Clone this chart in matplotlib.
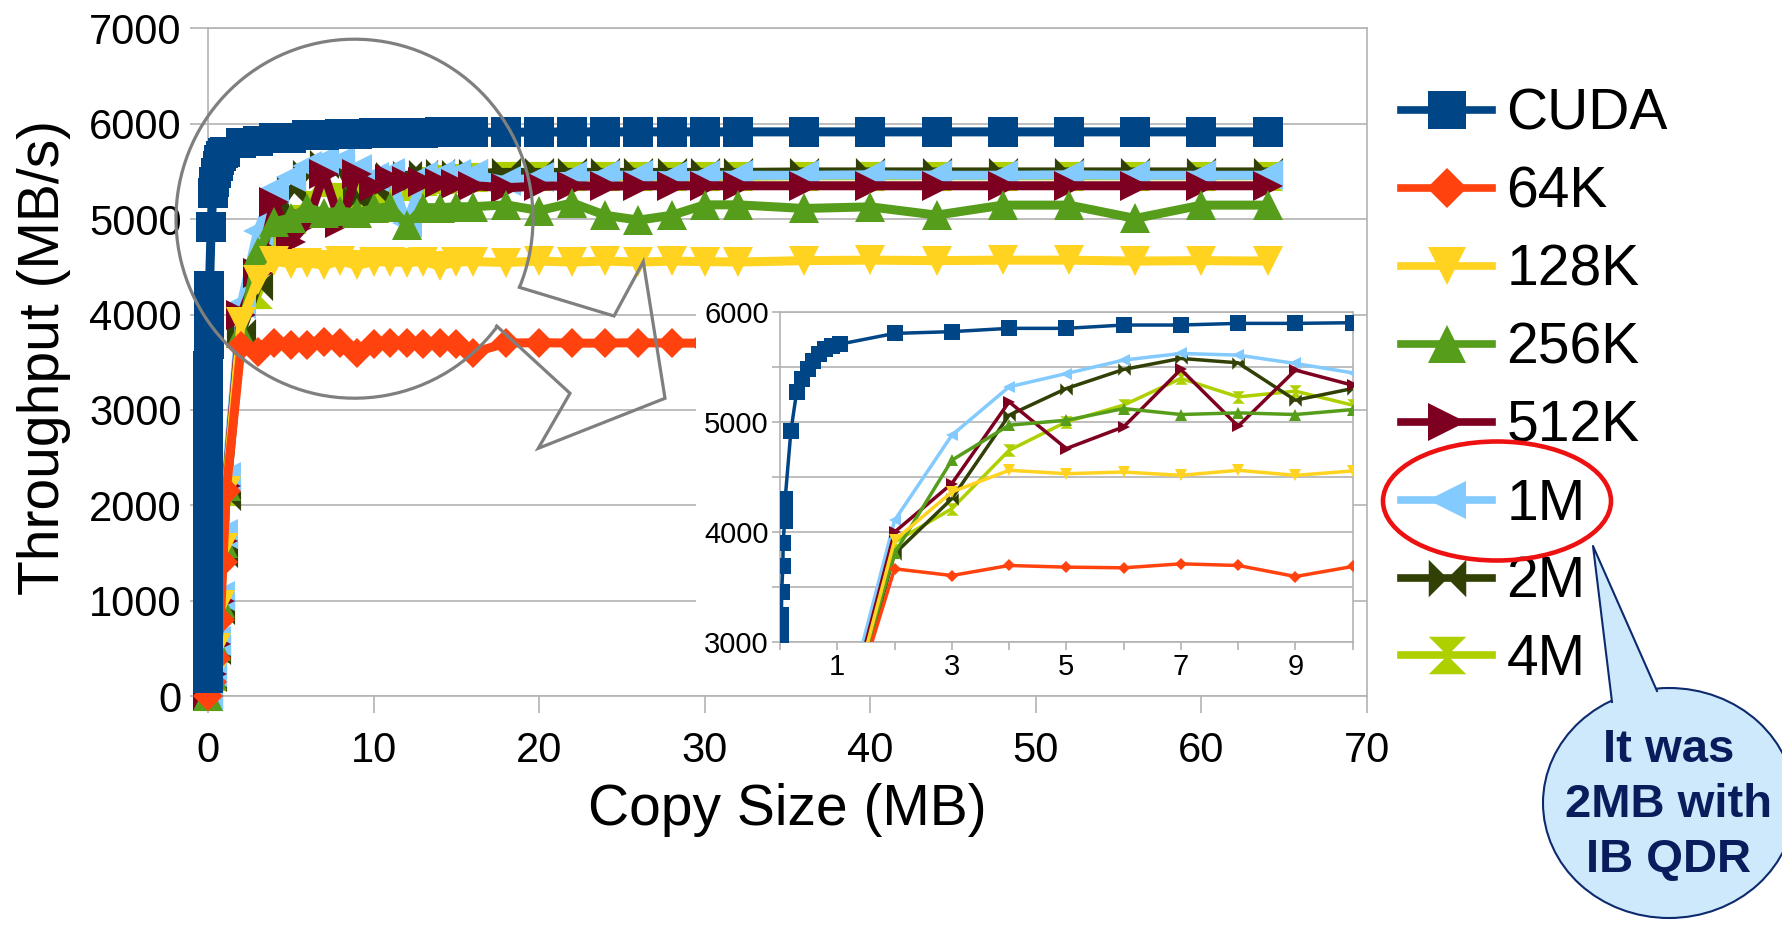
import matplotlib
matplotlib.use("Agg")
from matplotlib import pyplot as plt
from matplotlib.lines import Line2D
from matplotlib.patches import Arc, Ellipse, Polygon, Rectangle

plt.rcParams['font.family'] = ['Liberation Sans', 'DejaVu Sans']

labels = ["CUDA", "64K", "128K", "256K", "512K", "1M", "2M", "4M"]
colors = ["#004586", "#ff420e", "#ffd320", "#579d1c", "#7e0021", "#83caff", "#314004", "#aecf00"]
BOWTIE = [(-1, 1), (-1, -1), (1, 1), (1, -1)]
HOURGLASS = [(-1, 1), (1, 1), (-1, -1), (1, -1)]
markers = ["s", "D", "v", "^", ">", "<", BOWTIE, HOURGLASS]

# copy size (MB)
x_cuda = [0.001, 0.002, 0.003, 0.004, 0.005, 0.006, 0.007, 0.008, 0.009, 0.01, 0.012, 0.016,
          0.02, 0.025, 0.03, 0.05, 0.055, 0.08, 0.085, 0.09,
          0.19, 0.29, 0.39, 0.49, 0.58, 0.68, 0.79, 0.9, 1.04,
          2, 3, 4, 5, 6, 7, 8, 9, 10, 11, 12, 13, 14, 15, 16,
          18, 20, 22, 24, 26, 28, 30, 32, 36, 40, 44, 48, 52, 56, 60, 64]
x_pipe = [0, 0.25, 0.5, 0.75, 0.9, 1.1,
          2, 3, 4, 5, 6, 7, 8, 9, 10, 11, 12, 13, 14, 15, 16,
          18, 20, 22, 24, 26, 28, 30, 32, 36, 40, 44, 48, 52, 56, 60, 64]

# throughput (MB/s)
y_cuda = [190, 480, 770, 1060, 1350, 1640, 1930, 2220, 2510, 2800, 2950, 3050,
          3150, 3250, 3460, 3695, 3900, 4100, 4225, 4300,
          4915, 5270, 5390, 5480, 5555, 5615, 5660, 5690, 5705,
          5803, 5819, 5849, 5849, 5879, 5879, 5894, 5894, 5900, 5900, 5905, 5905, 5910, 5910, 5910,
          5912, 5912, 5915, 5915, 5915, 5915, 5915, 5915, 5915, 5915, 5915, 5915, 5915, 5915, 5915, 5915]
y_64k = [0, 150, 400, 800, 1400, 2150,
         3667, 3606, 3697, 3682, 3676, 3712, 3697, 3597, 3688, 3700, 3705, 3690, 3700, 3695, 3600,
         3700, 3705, 3700, 3700, 3705, 3700, 3700, 3700, 3700, 3705, 3700, 3700, 3705, 3700, 3700, 3700]
y_128k = [0, 200, 500, 950, 1550, 2150,
          3924, 4364, 4561, 4530, 4545, 4515, 4561, 4515, 4555, 4550, 4545, 4555, 4510, 4550, 4555,
          4545, 4560, 4550, 4560, 4550, 4560, 4555, 4550, 4565, 4570, 4565, 4570, 4570, 4560, 4565, 4560]
y_256k = [0, 220, 520, 980, 1600, 2200,
          3808, 4652, 4970, 5015, 5121, 5067, 5082, 5067, 5112, 5130, 4940, 5120, 5120, 5130, 5130,
          5150, 5090, 5170, 5040, 4990, 5040, 5150, 5150, 5112, 5129, 5042, 5147, 5147, 5007, 5147, 5147]
y_512k = [0, 230, 540, 1000, 1620, 2200,
          4000, 4440, 5182, 4758, 4955, 5476, 4961, 5470, 5333, 5420, 5400, 5390, 5380, 5370, 5350,
          5330, 5345, 5350, 5345, 5350, 5350, 5350, 5350, 5350, 5350, 5350, 5350, 5350, 5350, 5350, 5350]
y_1m = [0, 250, 580, 1050, 1700, 2300,
        4106, 4879, 5318, 5439, 5561, 5621, 5606, 5530, 5445, 5480, 4960, 5450, 5460, 5470, 5470,
        5400, 5440, 5450, 5460, 5460, 5455, 5460, 5460, 5460, 5465, 5460, 5460, 5465, 5460, 5460, 5460]
y_2m = [0, 200, 480, 900, 1500, 2100,
        3803, 4303, 5061, 5303, 5476, 5576, 5536, 5197, 5303, 5450, 5460, 5470, 5480, 5470, 5480,
        5490, 5490, 5490, 5490, 5490, 5490, 5490, 5490, 5495, 5495, 5495, 5495, 5495, 5495, 5495, 5495]
y_4m = [0, 210, 500, 940, 1550, 2150,
        3909, 4212, 4742, 5000, 5152, 5394, 5227, 5279, 5152, 5300, 5350, 5400, 5420, 5430, 5440,
        5450, 5450, 5450, 5450, 5450, 5450, 5450, 5450, 5455, 5455, 5455, 5455, 5455, 5455, 5455, 5455]

series_x = [x_cuda] + [x_pipe] * 7
series_y = [y_cuda, y_64k, y_128k, y_256k, y_512k, y_1m, y_2m, y_4m]

GRID = "#b3b3b3"
W, H = 1783, 932

fig = plt.figure(figsize=(W / 100, H / 100), dpi=100)

# main chart
ax = fig.add_axes([208 / W, 236 / H, 1159 / W, 667.6 / H], zorder=0)
for i in reversed(range(len(labels))):
    ms = 15 if markers[i] == "D" else 21
    ax.plot(series_x[i], series_y[i], color=colors[i], lw=6.5, marker=markers[i], ms=ms,
            mew=0, clip_on=False, zorder=2 + (len(labels) - i))
ax.set_xlim(0, 70)
ax.set_ylim(0, 7000)
ax.set_xticks(range(0, 71, 10))
ax.set_yticks(range(0, 7001, 1000))
ax.grid(axis="y", color=GRID, lw=1.2)
ax.set_axisbelow(True)
for sp in ax.spines.values():
    sp.set_color(GRID)
    sp.set_linewidth(1.2)
ax.tick_params(axis="y", length=13, width=1.2, color=GRID, labelsize=30, pad=6)
ax.tick_params(axis="x", length=12, width=1.2, color=GRID, labelsize=30, pad=13)
ax.set_xlabel("Copy Size (MB)", fontsize=41)
ax.set_ylabel("Throughput (MB/s)", fontsize=41)
ax.xaxis.set_label_coords(0.5, -0.13)
ax.yaxis.set_label_coords(-0.118, 0.507)

# white panel behind the inset
fig.add_artist(Rectangle((696 / W, 1 - 686 / H), 657 / W, 386 / H, transform=fig.transFigure,
                         facecolor="white", edgecolor="none", zorder=1))

# inset zoom 0-10 MB
ins = fig.add_axes([780 / W, 1 - 642.3 / H, 572.7 / W, 330.6 / H], zorder=2)
for i in reversed(range(len(labels))):
    if markers[i] == "D":
        ms = 6
    elif markers[i] == "s":
        ms = 11
    else:
        ms = 9
    ins.plot(series_x[i], series_y[i], color=colors[i], lw=2.5, marker=markers[i], ms=ms,
             mew=0, zorder=2 + (len(labels) - i))
ins.set_xlim(0, 10)
ins.set_ylim(3000, 6000)
ins.set_xticks(range(0, 11))
ins.set_xticklabels([str(v) if v % 2 else "" for v in range(0, 11)])
ins.set_yticks(range(3000, 6001, 500))
ins.set_yticklabels([str(v) if v % 1000 == 0 else "" for v in range(3000, 6001, 500)])
ins.grid(axis="y", color=GRID, lw=1.2)
ins.set_axisbelow(True)
for sp in ins.spines.values():
    sp.set_color(GRID)
    sp.set_linewidth(1.2)
ins.tick_params(axis="y", length=6, width=1.2, color=GRID, labelsize=21, pad=2)
ins.tick_params(axis="x", length=6, width=1.2, color=GRID, labelsize=21, pad=2)

# overlay in pixel coordinates for annotations and legend
ov = fig.add_axes([0, 0, 1, 1], zorder=3)
ov.set_xlim(0, W)
ov.set_ylim(H, 0)
ov.axis("off")

ov.add_patch(Arc((354.5, 218.7), 357, 359, theta1=37, theta2=382.6, color="#7f7f7f", lw=2.3))
arrow_x = [519.3, 614, 643.3, 665, 538.3, 570, 496.7]
arrow_y = [287.3, 316, 261.7, 398.3, 448.3, 393.3, 326]
ov.plot(arrow_x, arrow_y, color="#7f7f7f", lw=2.3, solid_joinstyle="miter")

handles = []
for i in range(len(labels)):
    ms = 20 if markers[i] == "D" else 27
    handles.append(Line2D([], [], color=colors[i], lw=5.5, marker=markers[i], ms=ms, mew=0))
ov.legend(handles, labels, loc="upper left", bbox_to_anchor=(1401 / W, 1 - 88 / H),
          bbox_transform=fig.transFigure, frameon=False, fontsize=41, handlelength=1.6,
          handletextpad=0.25, labelspacing=0.42, borderpad=0, borderaxespad=0)

ov.add_patch(Ellipse((1497, 501), 228, 119, fill=False, edgecolor="#ee1111", lw=3.3, zorder=20))

BUBBLE = "#cde9fb"
NAVY = "#0d2a6e"
ov.add_patch(Ellipse((1669, 803), 252, 230, facecolor=BUBBLE, edgecolor=NAVY, lw=1.5, zorder=21))
ov.add_patch(Polygon([(1593, 546), (1612, 702), (1625, 745), (1650, 745), (1657, 691)],
                     closed=True, facecolor=BUBBLE, edgecolor="none", zorder=22))
ov.plot([1612, 1593, 1657], [702, 546, 691], color=NAVY, lw=1.5, zorder=23)
ov.text(1669, 805, "It was\n2MB with\nIB QDR", ha="center", va="center", fontsize=34,
        fontweight="bold", color="#0b1c5c", linespacing=1.33, zorder=24)

fig.savefig("out.png", dpi=100)
